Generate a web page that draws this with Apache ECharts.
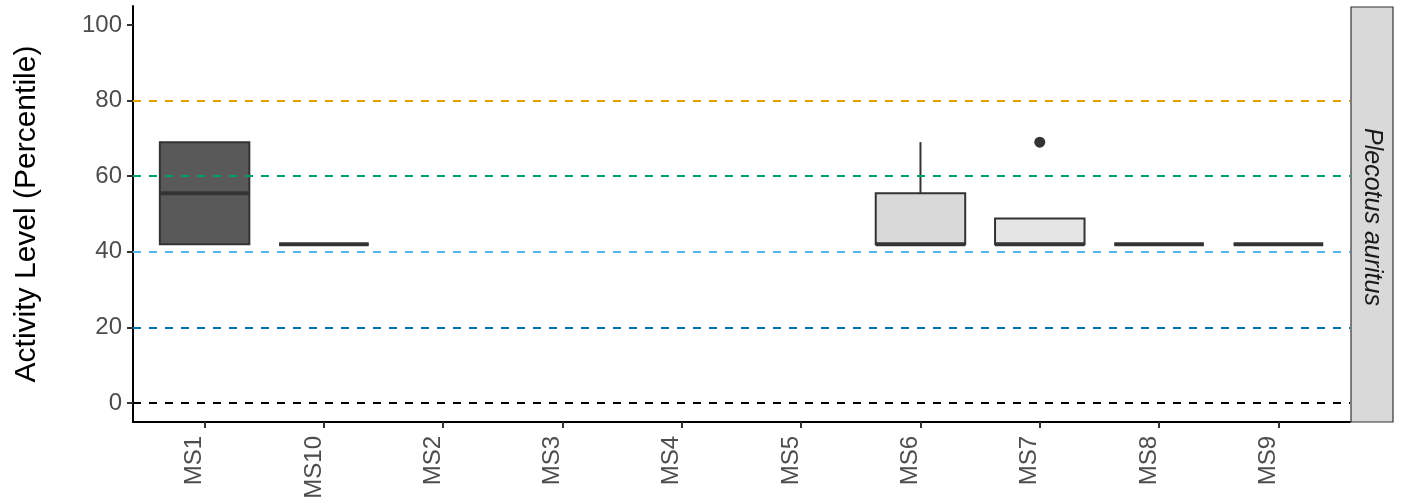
<!DOCTYPE html>
<html>
<head>
<meta charset="utf-8">
<script src="https://cdn.jsdelivr.net/npm/echarts@6/dist/echarts.min.js"></script>
<style>
  html, body { margin: 0; padding: 0; background: #ffffff; }
  #chart { width: 1405px; height: 504px; }
</style>
</head>
<body>
<div id="chart"></div>
<script>
// Recording sites along the x axis
const sites = ['MS1', 'MS10', 'MS2', 'MS3', 'MS4', 'MS5', 'MS6', 'MS7', 'MS8', 'MS9'];
// Five-number summaries per site: [min, q1, median, q3, max]; null = no activity recorded
const boxStats = [
  [42, 42, 55.5, 69, 69],
  [42, 42, 42, 42, 42],
  null,
  null,
  null,
  null,
  [42, 42, 42, 55.5, 69],
  [42, 42, 42, 48.8, 48.8],
  [42, 42, 42, 42, 42],
  [42, 42, 42, 42, 42]
];
// Points beyond the whiskers
const outlierSites = ['MS7'];
const outlierValues = [69];
// Percentile reference levels
const thresholds = [0, 20, 40, 60, 80];
const yTicks = [0, 20, 40, 60, 80, 100];
const speciesName = 'Plecotus auritus';
const yTitle = 'Activity Level (Percentile)';

// Styling
const thresholdColors = ['#000000', '#0072B2', '#56B4E9', '#009E73', '#E69F00'];
const boxFills = ['#595959', '#666666', '#808080', '#8c8c8c', '#999999', '#a6a6a6', '#d9d9d9', '#e5e5e5', '#bfbfbf', '#cccccc'];
const FONT = '"Liberation Sans", Arial, Helvetica, sans-serif';
const Y_MIN = -5, Y_MAX = 105;

// Panel geometry: the discrete axis keeps 0.6 of a band free at each end
const PANEL = { left: 133, top: 6, width: 1217, height: 416 };
const band = PANEL.width / (sites.length + 0.2);
const inner = { left: PANEL.left + 0.1 * band, top: PANEL.top, width: band * sites.length, height: PANEL.height };

const boxData = [];
boxStats.forEach((s, i) => {
  if (s) boxData.push([i].concat(s));
});
const outlierData = outlierSites.map((s, k) => [s, outlierValues[k]]);

function renderBox(params, api) {
  const i = api.value(0);
  const v = [api.value(1), api.value(2), api.value(3), api.value(4), api.value(5)];
  const cx = api.coord([i, 0])[0];
  const bw = api.size([1, 0])[0] * 0.75;
  const y = v.map(val => api.coord([i, val])[1]);
  const stroke = '#333333';
  return {
    type: 'group',
    children: [
      { type: 'line', shape: { x1: cx, y1: y[3], x2: cx, y2: y[4] }, style: { stroke, lineWidth: 2 } },
      { type: 'line', shape: { x1: cx, y1: y[0], x2: cx, y2: y[1] }, style: { stroke, lineWidth: 2 } },
      { type: 'rect', shape: { x: cx - bw / 2, y: y[3], width: bw, height: y[1] - y[3] },
        style: { fill: boxFills[i], stroke, lineWidth: 2 } },
      { type: 'line', shape: { x1: cx - bw / 2, y1: y[2], x2: cx + bw / 2, y2: y[2] },
        style: { stroke, lineWidth: 4 } }
    ]
  };
}

const chart = echarts.init(document.getElementById('chart'), null, { renderer: 'canvas' });
chart.setOption({
  animation: false,
  backgroundColor: '#ffffff',
  grid: [
    { left: PANEL.left, top: PANEL.top, width: PANEL.width, height: PANEL.height, containLabel: false },
    { left: inner.left, top: inner.top, width: inner.width, height: inner.height, containLabel: false }
  ],
  xAxis: [
    {
      gridIndex: 0, type: 'value', min: 0, max: 1,
      axisLine: { show: true, onZero: false, lineStyle: { color: '#000000', width: 2 } },
      axisTick: { show: false }, axisLabel: { show: false }, splitLine: { show: false }
    },
    {
      gridIndex: 1, type: 'category', data: sites, boundaryGap: true, position: 'bottom',
      axisLine: { show: false, onZero: false },
      axisTick: { show: true, alignWithLabel: true, length: 6, lineStyle: { color: '#333333', width: 2 } },
      axisLabel: {
        rotate: 90, margin: 14, fontSize: 24, color: '#4d4d4d', fontFamily: FONT,
        verticalAlign: 'bottom', lineHeight: 20
      },
      splitLine: { show: false }
    }
  ],
  yAxis: [
    {
      gridIndex: 0, type: 'value', min: Y_MIN, max: Y_MAX,
      name: yTitle, nameLocation: 'middle', nameRotate: 90, nameGap: 91,
      nameTextStyle: { fontSize: 30, color: '#000000', fontFamily: FONT },
      axisLine: { show: true, onZero: false, lineStyle: { color: '#000000', width: 2 } },
      axisTick: { show: true, length: 6, customValues: yTicks, lineStyle: { color: '#333333', width: 2 } },
      axisLabel: { show: true, margin: 11, fontSize: 24, color: '#4d4d4d', fontFamily: FONT, customValues: yTicks },
      splitLine: { show: false }
    },
    {
      gridIndex: 1, type: 'value', min: Y_MIN, max: Y_MAX, show: false,
      splitLine: { show: false }
    }
  ],
  series: [
    {
      type: 'line', xAxisIndex: 0, yAxisIndex: 0, data: [], silent: true,
      markLine: {
        silent: true, symbol: ['none', 'none'], label: { show: false },
        data: thresholds.map((v, k) => ({
          yAxis: v,
          lineStyle: { color: thresholdColors[k], width: 2, type: [8, 8] }
        }))
      },
      z: 1
    },
    {
      type: 'custom', xAxisIndex: 1, yAxisIndex: 1, renderItem: renderBox,
      data: boxData, encode: { x: 0, y: [1, 2, 3, 4, 5] }, z: 3
    },
    {
      type: 'scatter', xAxisIndex: 1, yAxisIndex: 1, data: outlierData,
      symbol: 'circle', symbolSize: 11, itemStyle: { color: '#333333', opacity: 1 }, z: 4
    }
  ],
  graphic: [
    {
      type: 'rect', shape: { x: 1351, y: 7, width: 42, height: 415 },
      style: { fill: '#d9d9d9', stroke: '#333333', lineWidth: 1.2 }, z: 10
    },
    {
      type: 'text', x: 1372, y: 217, rotation: -Math.PI / 2,
      style: {
        text: speciesName, fontSize: 25, fontStyle: 'italic', fontFamily: FONT,
        fill: '#1a1a1a', align: 'center', verticalAlign: 'middle'
      }, z: 11
    }
  ]
});
</script>
</body>
</html>
